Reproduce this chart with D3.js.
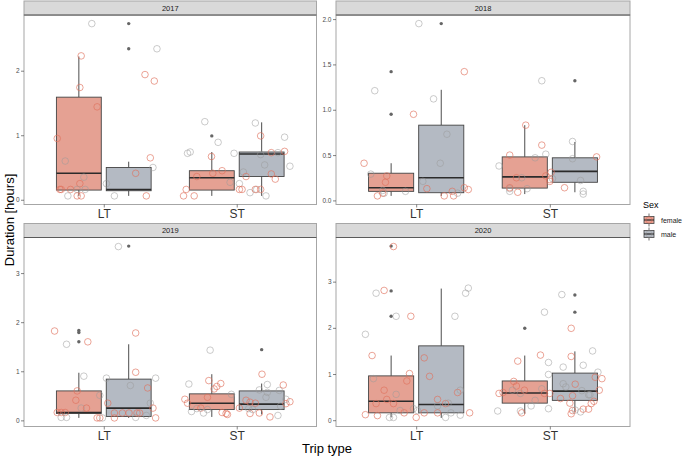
<!DOCTYPE html>
<html><head><meta charset="utf-8">
<script src="https://cdn.jsdelivr.net/npm/d3@7"></script>
<style>body{margin:0;background:#fff}svg{display:block}</style>
</head><body><svg id="c" width="685" height="459"></svg>
<script>
const years = ["2017","2018","2019","2020"];
const tripTypes = ["LT","ST"];
const sexes = ["female","male"];
const yTicks2017 = [0,1,2];
const yTicks2018 = [0,0.5,1,1.5,2];
const yTicks2019 = [0,1,2,3];
const yTicks2020 = [0,1,2,3];
const yTickLabels2017 = ["0","1","2"];
const yTickLabels2018 = ["0.0","0.5","1.0","1.5","2.0"];
const yTickLabels2019 = ["0","1","2","3"];
const yTickLabels2020 = ["0","1","2","3"];

// year, trip, sex, lower whisker, q1, median, q3, upper whisker
const boxStats = [
  ["2017","LT","female",0.06,0.15,0.41,1.59,2.22],
  ["2017","LT","male",0.06,0.14,0.16,0.50,0.59],
  ["2017","ST","female",0.06,0.15,0.34,0.45,0.74],
  ["2017","ST","male",0.06,0.36,0.71,0.74,1.20],
  ["2018","LT","female",0.05,0.10,0.14,0.30,0.41],
  ["2018","LT","male",0.05,0.085,0.25,0.83,1.22],
  ["2018","ST","female",0.07,0.136,0.26,0.48,0.83],
  ["2018","ST","male",0.09,0.20,0.32,0.47,0.645],
  ["2019","LT","female",0.05,0.14,0.16,0.60,0.97],
  ["2019","LT","male",0.05,0.08,0.25,0.84,1.55],
  ["2019","ST","female",0.07,0.22,0.35,0.54,0.94],
  ["2019","ST","male",0.12,0.22,0.33,0.60,0.75],
  ["2020","LT","female",0.06,0.16,0.41,0.96,1.40],
  ["2020","LT","male",0.05,0.16,0.34,1.61,2.85],
  ["2020","ST","female",0.14,0.37,0.59,0.85,1.40],
  ["2020","ST","male",0.18,0.43,0.63,1.02,1.49]
];
// year, trip, sex, value
const outliers = [
  ["2017","LT","male",2.73],["2017","LT","male",2.34],["2017","ST","female",0.99],
  ["2018","LT","female",1.42],["2018","LT","female",0.95],["2018","LT","male",1.95],["2018","ST","male",1.32],
  ["2019","LT","female",1.83],["2019","LT","female",1.79],["2019","LT","female",1.60],["2019","LT","male",3.55],["2019","ST","male",1.44],
  ["2020","LT","female",3.77],["2020","LT","female",2.80],["2020","LT","female",2.25],
  ["2020","ST","female",1.99],["2020","ST","male",2.71],["2020","ST","male",2.34]
];
// trip, sex (f/m), jitter (category units), duration [hours]
const points2017 = [
  ["LT","m",-0.09,2.73],["LT","f",-0.17,2.23],["LT","f",-0.18,1.74],["LT","f",-0.05,1.44],["LT","f",-0.35,0.95],
  ["LT","m",-0.29,0.60],["LT","m",-0.15,0.35],["LT","f",-0.18,0.25],["LT","f",-0.33,0.16],["LT","f",-0.32,0.16],
  ["LT","f",-0.25,0.16],["LT","m",-0.20,0.16],["LT","m",-0.14,0.16],["LT","m",-0.27,0.06],["LT","f",-0.20,0.06],
  ["LT","f",-0.17,0.06],["LT","m",0.02,0.25],["LT","m",0.08,0.06],["LT","f",0.24,0.41],["LT","f",0.35,0.65],
  ["LT","m",0.37,0.50],["LT","f",0.32,0.06],["LT","f",0.31,1.94],["LT","f",0.38,1.84],["LT","m",0.40,2.34],
  ["ST","f",-0.40,0.06],["ST","f",-0.38,0.16],["ST","f",-0.32,0.06],["ST","m",-0.37,0.72],["ST","m",-0.35,0.74],
  ["ST","f",-0.30,0.36],["ST","m",-0.24,1.21],["ST","f",-0.19,0.67],["ST","f",-0.18,0.41],["ST","m",-0.14,0.89],
  ["ST","f",-0.11,0.45],["ST","m",-0.05,0.27],["ST","m",-0.02,0.72],["ST","m",0.02,0.25],["ST","f",0.02,0.16],
  ["ST","f",0.04,0.16],["ST","m",0.05,0.43],["ST","f",0.07,0.36],["ST","m",0.10,0.11],["ST","m",0.14,1.19],
  ["ST","m",0.15,0.16],["ST","f",0.14,0.16],["ST","f",0.18,0.16],["ST","f",0.18,0.99],["ST","m",0.18,0.70],
  ["ST","m",0.21,0.54],["ST","m",0.22,0.06],["ST","f",0.26,0.73],["ST","m",0.31,0.73],["ST","f",0.26,0.40],
  ["ST","f",0.29,0.32],["ST","f",0.36,0.75],["ST","m",0.36,0.97],["ST","m",0.40,0.52]
];
const points2018 = [
  ["LT","f",-0.39,0.41],["LT","m",-0.31,1.21],["LT","m",-0.34,0.29],["LT","f",-0.22,0.27],["LT","f",-0.23,0.20],
  ["LT","m",-0.25,0.11],["LT","m",-0.24,0.08],["LT","f",-0.25,0.08],["LT","f",-0.29,0.05],["LT","m",-0.08,0.10],
  ["LT","f",-0.02,0.95],["LT","m",0.02,1.95],["LT","m",0.05,0.21],["LT","f",0.08,0.13],["LT","m",0.13,1.12],
  ["LT","m",0.23,0.73],["LT","m",0.18,0.41],["LT","f",0.21,0.05],["LT","f",0.27,0.10],["LT","f",0.28,0.05],
  ["LT","m",0.31,0.08],["LT","f",0.36,1.42],["LT","f",0.36,0.14],["LT","f",0.39,0.12],
  ["ST","m",-0.38,0.38],["ST","f",-0.30,0.50],["ST","m",-0.30,0.13],["ST","m",-0.30,0.10],["ST","f",-0.30,0.14],
  ["ST","f",-0.25,0.25],["ST","f",-0.24,0.09],["ST","m",-0.21,0.25],["ST","m",-0.17,0.13],["ST","f",-0.18,0.83],
  ["ST","m",-0.11,0.47],["ST","m",-0.06,1.32],["ST","f",-0.06,0.61],["ST","m",-0.03,0.51],["ST","f",-0.03,0.27],
  ["ST","f",0.00,0.21],["ST","f",0.01,0.31],["ST","f",0.00,0.23],["ST","m",0.02,0.24],["ST","m",0.17,0.65],
  ["ST","m",0.17,0.46],["ST","f",0.11,0.14],["ST","m",0.23,0.22],["ST","m",0.25,0.10],["ST","m",0.25,0.07],
  ["ST","f",0.35,0.48]
];
const points2019 = [
  ["LT","f",-0.37,1.82],["LT","m",-0.28,1.55],["LT","f",-0.12,1.60],["LT","m",-0.15,0.90],["LT","f",-0.20,0.60],
  ["LT","f",-0.21,0.41],["LT","m",-0.17,0.25],["LT","f",-0.13,0.25],["LT","f",-0.35,0.16],["LT","f",-0.32,0.16],
  ["LT","f",-0.29,0.16],["LT","m",-0.32,0.06],["LT","m",-0.28,0.06],["LT","m",-0.03,0.51],["LT","f",-0.05,0.05],
  ["LT","f",-0.03,0.05],["LT","m",-0.01,0.05],["LT","m",0.02,0.86],["LT","f",0.03,0.35],["LT","f",0.08,0.05],
  ["LT","f",0.08,0.15],["LT","m",0.11,3.54],["LT","f",0.14,0.15],["LT","m",0.20,0.71],["LT","f",0.19,0.15],
  ["LT","f",0.25,0.15],["LT","f",0.27,0.15],["LT","m",0.24,0.06],["LT","f",0.24,1.78],["LT","f",0.24,0.98],
  ["LT","f",0.33,0.66],["LT","m",0.32,0.10],["LT","m",0.35,0.35],["LT","f",0.37,0.25],["LT","f",0.39,0.05],
  ["LT","m",0.39,0.86],
  ["ST","m",-0.36,0.74],["ST","f",-0.39,0.43],["ST","f",-0.37,0.35],["ST","m",-0.34,0.18],["ST","m",-0.30,0.24],
  ["ST","f",-0.27,0.25],["ST","m",-0.25,0.15],["ST","f",-0.22,0.47],["ST","m",-0.22,0.22],["ST","f",-0.21,0.81],
  ["ST","f",-0.17,0.64],["ST","f",-0.15,0.69],["ST","f",-0.12,0.75],["ST","m",-0.20,1.43],["ST","f",-0.11,0.16],
  ["ST","f",-0.08,0.14],["ST","f",-0.07,0.12],["ST","m",-0.04,0.53],["ST","f",0.02,0.25],["ST","f",0.07,0.41],
  ["ST","f",0.10,0.37],["ST","f",0.10,0.14],["ST","m",0.12,0.22],["ST","m",0.09,0.24],["ST","f",0.14,0.35],
  ["ST","f",0.17,0.15],["ST","f",0.19,0.94],["ST","m",0.17,0.62],["ST","m",0.23,0.73],["ST","m",0.22,0.47],
  ["ST","m",0.23,0.57],["ST","f",0.25,0.07],["ST","m",0.31,0.10],["ST","m",0.32,0.61],["ST","f",0.35,0.72],
  ["ST","m",0.33,0.29],["ST","f",0.37,0.34],["ST","f",0.40,0.38],["ST","m",0.37,0.43]
];
const points2020 = [
  ["LT","f",-0.17,3.76],["LT","m",-0.38,1.86],["LT","f",-0.33,1.40],["LT","m",-0.30,2.75],["LT","f",-0.24,2.81],
  ["LT","m",-0.15,2.25],["LT","f",-0.04,2.25],["LT","m",-0.32,0.90],["LT","f",-0.24,0.65],["LT","f",-0.07,0.85],
  ["LT","f",-0.05,1.01],["LT","m",-0.15,0.56],["LT","f",-0.22,0.45],["LT","f",-0.30,0.36],["LT","f",-0.17,0.36],
  ["LT","f",-0.38,0.12],["LT","f",-0.29,0.10],["LT","m",-0.20,0.06],["LT","m",-0.17,0.06],["LT","m",-0.12,0.21],
  ["LT","f",-0.09,0.16],["LT","f",0.00,0.06],["LT","m",-0.02,0.25],["LT","m",0.01,0.21],["LT","f",0.06,1.35],
  ["LT","f",0.10,0.95],["LT","f",0.06,0.16],["LT","f",0.16,0.45],["LT","m",0.16,0.31],["LT","f",0.16,0.16],
  ["LT","m",0.22,0.06],["LT","f",0.22,0.36],["LT","m",0.24,0.37],["LT","m",0.26,0.16],["LT","m",0.29,2.25],
  ["LT","f",0.31,0.60],["LT","m",0.33,0.65],["LT","m",0.33,0.11],["LT","m",0.37,2.75],["LT","m",0.39,2.86],
  ["LT","f",0.40,0.16],
  ["ST","m",-0.39,0.20],["ST","f",-0.38,0.58],["ST","f",-0.35,0.60],["ST","f",-0.27,0.84],["ST","f",-0.25,0.74],
  ["ST","f",-0.24,1.28],["ST","m",-0.28,0.65],["ST","m",-0.22,0.58],["ST","m",-0.22,0.20],["ST","f",-0.21,0.16],
  ["ST","f",-0.19,0.65],["ST","m",-0.14,0.31],["ST","f",-0.07,1.41],["ST","m",-0.11,0.43],["ST","m",-0.06,0.68],
  ["ST","m",-0.04,2.34],["ST","m",-0.01,1.25],["ST","f",-0.04,0.58],["ST","f",0.00,0.58],["ST","m",-0.01,0.99],
  ["ST","m",-0.01,0.25],["ST","m",0.09,2.72],["ST","m",0.10,1.15],["ST","f",0.08,0.47],["ST","m",0.10,0.79],
  ["ST","m",0.12,0.72],["ST","f",0.16,1.38],["ST","f",0.16,1.99],["ST","f",0.19,0.78],["ST","f",0.17,0.53],
  ["ST","f",0.15,0.37],["ST","f",0.16,0.14],["ST","f",0.17,0.21],["ST","m",0.19,0.22],["ST","m",0.23,0.18],
  ["ST","m",0.24,0.64],["ST","m",0.25,1.19],["ST","f",0.25,0.24],["ST","f",0.29,0.24],["ST","m",0.29,0.55],
  ["ST","m",0.30,0.55],["ST","f",0.31,0.36],["ST","f",0.33,0.41],["ST","m",0.32,1.50],["ST","m",0.36,1.04],
  ["ST","f",0.34,0.93],["ST","f",0.39,0.90],["ST","f",0.37,0.65]
];

const pointsByYear = {"2017":points2017,"2018":points2018,"2019":points2019,"2020":points2020};
const ticksByYear = {"2017":[yTicks2017,yTickLabels2017],"2018":[yTicks2018,yTickLabels2018],
                     "2019":[yTicks2019,yTickLabels2019],"2020":[yTicks2020,yTickLabels2020]};

const FONT = "'Liberation Sans', Arial, Helvetica, sans-serif";
const fillCol = {female:"#E5A193", male:"#B4BAC3"};
const ptCol = {f:"#E0705C", m:"#9A9A9A"};
const svg = d3.select("#c").style("font-family", FONT);

const layout = [
  {year:"2017", x0:24, x1:316.5, s0:1, s1:15, y1:204.5},
  {year:"2018", x0:336, x1:630, s0:1, s1:15, y1:204.5},
  {year:"2019", x0:24, x1:316.5, s0:223.5, s1:237.5, y1:426.5},
  {year:"2020", x0:336, x1:630, s0:223.5, s1:237.5, y1:426.5}
];

layout.forEach(L => {
  const yr = L.year;
  const pts = pointsByYear[yr];
  const vals = pts.map(d => d[3])
    .concat(outliers.filter(o => o[0]===yr).map(o => o[3]))
    .concat(boxStats.filter(b => b[0]===yr).flatMap(b => [b[3], b[7]]));
  const [mn, mx] = d3.extent(vals);
  const pad = (mx - mn) * 0.05;
  const y = d3.scaleLinear().domain([mn - pad, mx + pad]).range([L.y1, L.s1]);
  const x = d3.scalePoint().domain(tripTypes).range([L.x0, L.x1]).padding(0.6);
  const step = x.step();
  const g = svg.append("g");

  // panel background
  g.append("rect").attr("x", L.x0).attr("y", L.s1).attr("width", L.x1 - L.x0).attr("height", L.y1 - L.s1)
    .attr("fill", "#fff");

  // boxes
  const dodge = 0.1875, bw = 0.3375;
  boxStats.filter(b => b[0]===yr).forEach(b => {
    const [, trip, sex, lo, q1, med, q3, hi] = b;
    const cx = x(trip) + (sex === "female" ? -dodge : dodge) * step;
    const hw = bw / 2 * step;
    g.append("line").attr("x1", cx).attr("x2", cx).attr("y1", y(q3)).attr("y2", y(hi))
      .attr("stroke", "#4D4D4D").attr("stroke-width", 1);
    g.append("line").attr("x1", cx).attr("x2", cx).attr("y1", y(q1)).attr("y2", y(lo))
      .attr("stroke", "#4D4D4D").attr("stroke-width", 1);
    g.append("rect").attr("x", cx - hw).attr("y", y(q3)).attr("width", 2 * hw).attr("height", y(q1) - y(q3))
      .attr("fill", fillCol[sex]).attr("stroke", "#444").attr("stroke-width", 0.9);
    g.append("line").attr("x1", cx - hw).attr("x2", cx + hw).attr("y1", y(med)).attr("y2", y(med))
      .attr("stroke", "#2b2b2b").attr("stroke-width", 1.6);
  });
  outliers.filter(o => o[0]===yr).forEach(o => {
    const cx = x(o[1]) + (o[2] === "female" ? -dodge : dodge) * step;
    g.append("circle").attr("cx", cx).attr("cy", y(o[3])).attr("r", 1.7).attr("fill", "#666");
  });

  // jittered points
  g.selectAll("circle.pt").data(pts).join("circle").attr("class", "pt")
    .attr("cx", d => x(d[0]) + d[2] * step)
    .attr("cy", d => y(d[3]))
    .attr("r", 3.3)
    .attr("fill", "none")
    .attr("stroke", d => ptCol[d[1]])
    .attr("stroke-opacity", d => d[1] === "f" ? 0.8 : 0.65)
    .attr("stroke-width", 0.8);

  // panel border
  g.append("rect").attr("x", L.x0).attr("y", L.s1).attr("width", L.x1 - L.x0).attr("height", L.y1 - L.s1)
    .attr("fill", "none").attr("stroke", "#A6A6A6").attr("stroke-width", 1);

  // strip
  g.append("rect").attr("x", L.x0).attr("y", L.s0).attr("width", L.x1 - L.x0).attr("height", L.s1 - L.s0)
    .attr("fill", "#D9D9D9").attr("stroke", "#A6A6A6").attr("stroke-width", 1);
  g.append("line").attr("x1", L.x0).attr("x2", L.x1).attr("y1", L.s1).attr("y2", L.s1)
    .attr("stroke", "#5a5a5a").attr("stroke-width", 1);
  g.append("text").attr("x", (L.x0 + L.x1) / 2).attr("y", (L.s0 + L.s1) / 2 + 2.5)
    .attr("text-anchor", "middle").attr("font-size", 7.5).attr("fill", "#1A1A1A").text(yr);

  // y axis
  const [tv, tl] = ticksByYear[yr];
  const ya = g.append("g").attr("transform", `translate(${L.x0},0)`)
    .call(d3.axisLeft(y).tickValues(tv).tickFormat((d, i) => tl[i]).tickSize(3).tickPadding(1.5));
  ya.select(".domain").remove();
  ya.selectAll("line").attr("stroke", "#333").attr("stroke-width", 0.6);
  ya.selectAll("text").attr("font-size", 6.5).attr("fill", "#4D4D4D").attr("font-family", FONT);

  // x axis
  const xa = g.append("g").attr("transform", `translate(0,${L.y1})`)
    .call(d3.axisBottom(x).tickSize(3).tickPadding(1.5));
  xa.select(".domain").remove();
  xa.selectAll("line").attr("stroke", "#333").attr("stroke-width", 0.6);
  xa.selectAll("text").attr("font-size", 12).attr("fill", "#333").attr("font-family", FONT);
});

// axis titles
svg.append("text").attr("x", 327).attr("y", 452.5).attr("text-anchor", "middle")
  .attr("font-size", 13).attr("fill", "#000").text("Trip type");
svg.append("text").attr("transform", "translate(13.5,220) rotate(-90)").attr("text-anchor", "middle")
  .attr("font-size", 13).attr("fill", "#000").text("Duration [hours]");

// legend
const lg = svg.append("g").attr("transform", "translate(643,0)");
lg.append("text").attr("x", 0).attr("y", 208).attr("font-size", 9).attr("fill", "#000").text("Sex");
sexes.forEach((s, i) => {
  const cy = 220 + i * 14;
  const kx = 6;
  lg.append("line").attr("x1", kx).attr("x2", kx).attr("y1", cy - 6.5).attr("y2", cy + 6.5)
    .attr("stroke", "#4D4D4D").attr("stroke-width", 0.8);
  lg.append("rect").attr("x", kx - 5).attr("y", cy - 3.5).attr("width", 10).attr("height", 7)
    .attr("fill", fillCol[s]).attr("stroke", "#444").attr("stroke-width", 0.8);
  lg.append("line").attr("x1", kx - 5).attr("x2", kx + 5).attr("y1", cy).attr("y2", cy)
    .attr("stroke", "#2b2b2b").attr("stroke-width", 1.2);
  lg.append("circle").attr("cx", kx).attr("cy", cy).attr("r", 3.2).attr("fill", "none")
    .attr("stroke", ptCol[s[0]]).attr("stroke-opacity", 0.8).attr("stroke-width", 0.7);
  lg.append("text").attr("x", 18).attr("y", cy + 2.5).attr("font-size", 7).attr("fill", "#1A1A1A").text(s);
});
</script>
</body></html>
